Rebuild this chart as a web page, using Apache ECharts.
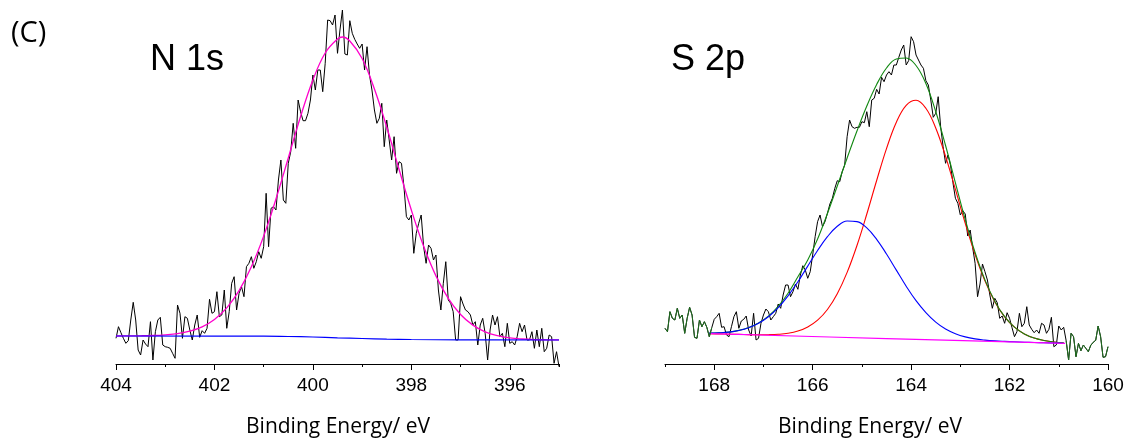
<!DOCTYPE html>
<html>
<head>
<meta charset="utf-8">
<script src="https://cdn.jsdelivr.net/npm/echarts@6/dist/echarts.min.js"></script>
<style>
  html, body { margin: 0; padding: 0; background: #fff; }
  #chart { width: 1125px; height: 441px; }
</style>
</head>
<body>
<div id="chart"></div>
<script>
// ---------- N 1s spectrum (404 -> 395 eV, 0.05 eV steps) ----------
const n1sStart = 404;
const n1sStep = 0.05;
const n1sCounts = [
  25.7, 37.3, 31.3, 25.7, 20.7, 23.3, 44, 61.7, 44, 14,
  9, 24, 20, 17.3, 42.3, 4, 32.3, 44, 46.7, 19,
  17.3, 16.7, 15.7, 10.7, 5.7, 59, 50.7, 25.7, 47.3, 45.7,
  34, 24, 39, 49, 26.7, 33.3, 30.7, 35.7, 64.7, 50.7,
  52.3, 72.3, 47.3, 49, 74, 35.7, 52.3, 80.7, 87.3, 54,
  70.7, 77.3, 67.3, 97.3, 100.7, 107.3, 95.7, 102.3, 112.3, 105.7,
  117.3, 170.7, 117.3, 155.7, 157.3, 154, 184, 204, 164, 160.7,
  200.7, 212.3, 240.7, 215.7, 264, 252.3, 243.3, 243.3, 250.7, 264,
  289, 274, 294, 294, 272.3, 300.7, 344, 343.3, 339, 349,
  310.7, 334, 354, 310, 309, 343.3, 330.7, 324.7, 320, 315.7,
  320, 294, 317.3, 289, 274, 254, 240.7, 245.7, 260.7, 217.3,
  244, 224, 204, 227.3, 190.7, 202.3, 200.7, 177.3, 147.3, 144,
  149, 110.7, 130.7, 140.7, 149, 117.3, 100.7, 119, 115.7, 104,
  109, 74, 54, 80.7, 102.3, 64, 60.7, 52.3, 24, 24,
  67.3, 60, 54, 52.3, 49, 39, 42.3, 19, 39, 45.7,
  30.7, 4, 34, 49, 39, 47.3, 27.3, 30.7, 17.3, 40.7,
  20.7, 22.3, 19, 27.3, 40.7, 32.3, 39, 24, 24, 32.3,
  15.7, 34, 17.3, 35.7, 12.3, 15.7, 29, 27.3, 0.7, 12.3,
  -2.7
];
// fitted envelope and background for N 1s
const n1sFitE = [404, 403.75, 403.5, 403.25, 403, 402.75, 402.5, 402.25, 402, 401.75,
  401.5, 401.25, 401, 400.75, 400.5, 400.25, 400, 399.75, 399.5, 399.4, 399.25, 399,
  398.75, 398.5, 398.25, 398, 397.75, 397.5, 397.25, 397, 396.75, 396.5, 396.25, 396,
  395.75, 395.5, 395.25, 395];
const n1sFitV = [28.0, 28.1, 28.2, 28.5, 29.2, 30.4, 32.9, 37.2, 44.5, 56.1,
  73.3, 97.2, 127.9, 165, 206, 247.5, 284, 311, 325, 327, 323, 305.5,
  275, 237, 194.7, 154, 117.7, 88.1, 65.6, 49.5, 38.9, 32.2, 28.3, 26.1,
  25, 24.4, 24.2, 24.1];
const n1sBgE = [404, 401, 400.5, 400, 399.5, 399, 398.5, 398, 397, 395];
const n1sBgV = [28, 27.9, 27.5, 27, 26.2, 25.5, 24.9, 24.5, 24.1, 24];

// ---------- S 2p spectrum (169 -> 160 eV, 0.05 eV steps) ----------
const s2pStart = 169;
const s2pStep = 0.05;
const s2pCounts = [
  35.7, 32.3, 52.3, 45.7, 44, 55.7, 45.7, 49, 30.7, 45.7,
  56.7, 49, 26.7, 25.7, 44, 37.3, 42.3, 36.7, 27.3, 36.3,
  44.7, 47.3, 50.7, 36.7, 37.3, 29, 27.3, 37.3, 47.3, 52.3,
  35.7, 43, 44.7, 48, 34, 28, 50.7, 24, 25.7, 40.7,
  49, 55, 52.3, 44, 47.3, 50.7, 60, 55.7, 69, 79,
  79, 67.3, 72.3, 80, 74.7, 89, 98.3, 94, 85.7, 92.3,
  109, 127.3, 142.3, 149, 137.3, 142.3, 150.7, 160, 165.7, 175.7,
  183.3, 182.3, 192.3, 199, 227.3, 244, 237.3, 235.7, 236.7, 236.7,
  242.3, 241.3, 252.3, 237.3, 264, 265.7, 274.7, 270, 286.7, 282.3,
  289, 292.3, 289, 299, 299, 306.7, 314, 319, 299, 303.3,
  327.3, 322.3, 309, 304, 299, 295.7, 283.3, 279, 264, 246.7,
  250.7, 267.3, 237.3, 217.3, 200.7, 209, 199, 181.3, 165.7, 160.7,
  149, 153.3, 150, 128, 134, 116.7, 100.7, 67.3, 80, 100,
  92.3, 84, 69, 55.7, 65.7, 61.3, 45.7, 48, 40.7, 51.3,
  45.7, 36.3, 27.3, 32.3, 50.7, 37.3, 40.7, 57.3, 39, 34.7,
  31.3, 34, 30.7, 40.7, 39, 30.7, 34.7, 46.7, 17.3, 19,
  38, 34, 36.7, 23.3, 4, 30.7, 27.3, 7.3, 20.7, 13.3,
  19, 15.7, 12.3, 18.7, 21.7, 23.7, 38, 27.3, 6.7, 7.3,
  17.3
];
// fitted components over the fit window 168.1 -> 160.9 eV
const s2pFitE = [168.1, 167.9, 167.7, 167.5, 167.3, 167.1, 166.9, 166.7, 166.5, 166.3,
  166.1, 165.9, 165.7, 165.5, 165.3, 165.1, 164.9, 164.7, 164.5, 164.3,
  164.1, 163.9, 163.7, 163.5, 163.3, 163.1, 162.9, 162.7, 162.5, 162.3,
  162.1, 161.9, 161.7, 161.5, 161.3, 161.1, 160.9];
const s2pRed = [30.3, 30.1, 29.8, 29.6, 29.4, 29.2, 29.3, 29.7, 30.7, 32.9,
  37.0, 43.8, 54.5, 70.3, 91.6, 118.5, 150.0, 183.5, 215.4, 241.8,
  258.7, 263.7, 255.7, 236.0, 207.6, 174.6, 140.7, 109.5, 83.1, 62.3,
  47.1, 36.8, 30.0, 25.9, 23.5, 22.0, 21.2];
const s2pBlue = [30.9, 31.2, 31.9, 33.5, 36.3, 40.7, 47.2, 56.4, 68.2, 82.2,
  97.9, 113.5, 127.3, 137.7, 143.0, 142.4, 136.1, 124.7, 110.0, 93.9,
  77.8, 63.3, 51.4, 41.9, 35.0, 30.3, 27.1, 25.1, 23.9, 23.1,
  22.6, 22.2, 21.8, 21.5, 21.3, 21.0, 20.7];
const s2pEnvelope = [30.9, 31.2, 31.9, 33.6, 36.4, 40.9, 47.8, 57.6, 70.7, 87.2,
  104, 125, 150.5, 178, 206, 233, 258, 279.5, 296, 305,
  306, 298.5, 280.5, 252.5, 218.5, 181.2, 144.4, 111.5, 84.1, 62.8,
  47.3, 36.8, 30.0, 25.9, 23.5, 22.0, 21.2];
const s2pBgE = [168.07, 164.5, 160.87];
const s2pBgV = [30.4, 25.4, 20.7];
const s2pFitWindow = [160.87, 168.07];

// ---------- axis ticks ----------
const n1sMajorTicks = [404, 402, 400, 398, 396];
const n1sMinorTicks = [403, 401, 399, 397, 395];
const s2pMajorTicks = [168, 166, 164, 162, 160];
const s2pMinorTicks = [169, 167, 165, 163, 161];

const xTitle = 'Binding Energy/ eV';

// ---------- helpers ----------
const energies = (start, step, n) => Array.from({ length: n }, (_, i) => +(start - i * step).toFixed(2));
const zip = (xs, ys) => xs.map((x, i) => [x, ys[i]]);

const n1sE = energies(n1sStart, n1sStep, n1sCounts.length);
const s2pE = energies(s2pStart, s2pStep, s2pCounts.length);
const n1sData = zip(n1sE, n1sCounts);
const s2pData = zip(s2pE, s2pCounts);
// outside the fit window the envelope simply follows the measured data
const s2pOuterLeft = s2pData.filter(p => p[0] >= s2pFitWindow[1] - 0.02);
const s2pOuterRight = s2pData.filter(p => p[0] <= s2pFitWindow[0] + 0.02);

const tickFont = { fontSize: 19, fontFamily: '"Liberation Sans", Arial, sans-serif', color: '#000' };

function majorAxis(grid, min, max, ticks) {
  return {
    gridIndex: grid, type: 'value', min, max, inverse: true, position: 'bottom',
    axisLine: { show: true, onZero: false, lineStyle: { color: '#000', width: 1 } },
    axisTick: { show: true, customValues: ticks, length: 6, lineStyle: { color: '#000', width: 1 } },
    axisLabel: Object.assign({ show: true, customValues: ticks, margin: 12 }, tickFont),
    splitLine: { show: false }
  };
}
function minorAxis(grid, min, max, ticks) {
  return {
    gridIndex: grid, type: 'value', min, max, inverse: true, position: 'bottom', offset: 0,
    axisLine: { show: false, onZero: false },
    axisTick: { show: true, customValues: ticks, length: 3, lineStyle: { color: '#000', width: 1 } },
    axisLabel: { show: false },
    splitLine: { show: false }
  };
}
function line(xAxisIndex, yAxisIndex, data, color, width, z) {
  return {
    type: 'line', xAxisIndex, yAxisIndex, data, showSymbol: false, symbol: 'none',
    clip: false, smooth: false, animation: false, z: z || 2,
    lineStyle: { color, width }, emphasis: { disabled: true }
  };
}
function smoothLine(xAxisIndex, yAxisIndex, data, color, width, z) {
  const s = line(xAxisIndex, yAxisIndex, data, color, width, z);
  s.smooth = 0.4;
  return s;
}

const chart = echarts.init(document.getElementById('chart'), null, { renderer: 'canvas' });

const option = {
  backgroundColor: '#fff',
  animation: false,
  grid: [
    { left: 116, width: 443, top: 4, bottom: 77, outerBoundsMode: 'none', containLabel: false },
    { left: 665, width: 443, top: 4, bottom: 77, outerBoundsMode: 'none', containLabel: false }
  ],
  xAxis: [
    majorAxis(0, 395, 404, n1sMajorTicks),
    majorAxis(1, 160, 169, s2pMajorTicks),
    minorAxis(0, 395, 404, n1sMinorTicks),
    minorAxis(1, 160, 169, s2pMinorTicks)
  ],
  yAxis: [
    { gridIndex: 0, type: 'value', min: 0, max: 360, show: false, splitLine: { show: false } },
    { gridIndex: 1, type: 'value', min: 0, max: 360, show: false, splitLine: { show: false } }
  ],
  series: [
    // N 1s
    line(0, 0, n1sData, '#000', 1, 2),
    smoothLine(0, 0, zip(n1sFitE, n1sFitV), '#ff00cc', 1.3, 3),
    smoothLine(0, 0, zip(n1sBgE, n1sBgV), '#0000ff', 1.2, 4),
    // S 2p
    line(1, 1, s2pData, '#000', 1, 2),
    smoothLine(1, 1, zip(s2pFitE, s2pRed), '#ff0000', 1.1, 3),
    smoothLine(1, 1, zip(s2pFitE, s2pEnvelope), '#118811', 1.1, 4),
    smoothLine(1, 1, zip(s2pFitE, s2pBlue), '#0000ff', 1.1, 5),
    smoothLine(1, 1, zip(s2pBgE, s2pBgV), '#ff00ff', 1.2, 6),
    line(1, 1, s2pOuterLeft, '#1f6f1f', 1, 7),
    line(1, 1, s2pOuterRight, '#1f6f1f', 1, 7)
  ],
  graphic: [
    { type: 'text', x: 11, y: 34, style: { text: '(C)', font: '29px "Open Sans", sans-serif', fill: '#000', textAlign: 'left', textVerticalAlign: 'middle' } },
    { type: 'text', x: 150, y: 60, style: { text: 'N 1s', font: '36px "Liberation Sans", Arial, sans-serif', fill: '#000', textAlign: 'left', textVerticalAlign: 'middle' } },
    { type: 'text', x: 671, y: 60, style: { text: 'S 2p', font: '36px "Liberation Sans", Arial, sans-serif', fill: '#000', textAlign: 'left', textVerticalAlign: 'middle' } },
    { type: 'text', x: 338, y: 427, style: { text: xTitle, font: '21px "Open Sans", sans-serif', fill: '#000', textAlign: 'center', textVerticalAlign: 'middle' } },
    { type: 'text', x: 870, y: 427, style: { text: xTitle, font: '21px "Open Sans", sans-serif', fill: '#000', textAlign: 'center', textVerticalAlign: 'middle' } }
  ]
};

chart.setOption(option);
</script>
</body>
</html>
